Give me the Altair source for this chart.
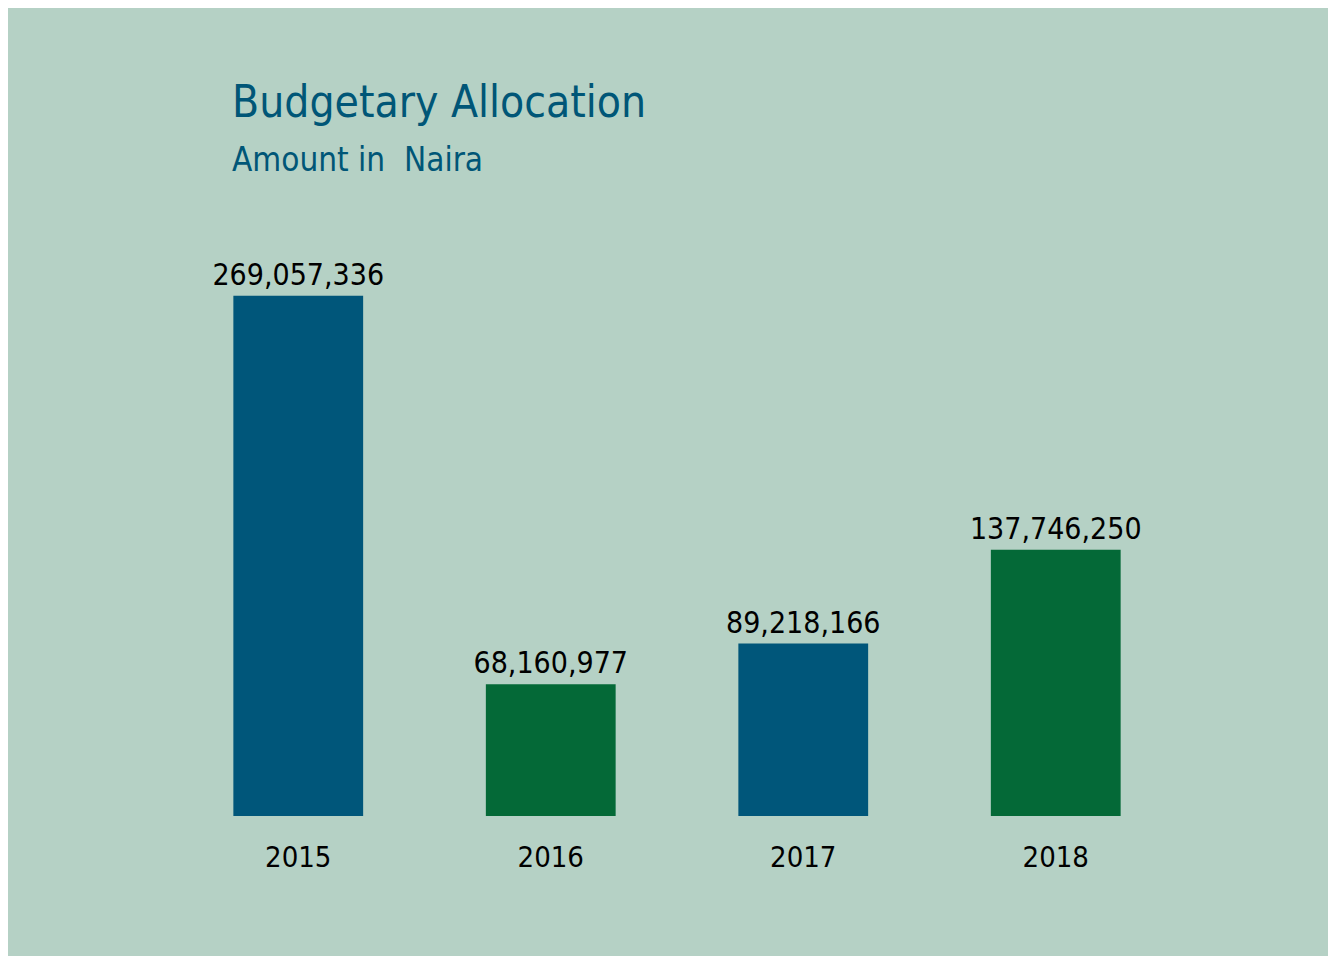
import altair as alt
import pandas as pd

years = ["2015", "2016", "2017", "2018"]
amounts = [269057336, 68160977, 89218166, 137746250]
colors = ["#00567a", "#046937", "#00567a", "#046937"]

df = pd.DataFrame({"year": years, "amount": amounts, "color": colors})
df["label"] = df["amount"].map(lambda v: f"{v:,}")

FONT = "DejaVu Sans Condensed, Roboto, sans-serif"

x = alt.X("year:N", sort=years,
          scale=alt.Scale(paddingInner=0.486, paddingOuter=0.243),
          axis=alt.Axis(title=None, labelAngle=0, domain=False, ticks=False,
                        labelFont=FONT, labelFontSize=29, labelColor="#000000",
                        labelPadding=27))
y = alt.Y("amount:Q", scale=alt.Scale(domain=[0, 300000000], nice=False),
          axis=None)

bars = alt.Chart(df).mark_bar().encode(
    x=x, y=y, color=alt.Color("color:N", scale=None)
)
text = alt.Chart(df).mark_text(
    baseline="bottom", dy=-5, font=FONT, fontSize=30, color="#000000"
).encode(x=x, y=y, text="label:N")

chart = alt.layer(bars, text).properties(
    width=1010, height=580,
    autosize=alt.AutoSizeParams(type="none"),
    padding={"left": 164, "right": 146, "top": 228, "bottom": 140},
    background="#b5d1c5",
    title=alt.TitleParams(
        "Budgetary Allocation", subtitle="Amount in\u00a0 Naira",
        anchor="start", dx=60, offset=58,
        font=FONT, fontSize=44, fontWeight="normal", color="#005677",
        subtitleFont=FONT, subtitleFontSize=33, subtitleColor="#005677",
        subtitlePadding=19,
    ),
).configure_view(stroke=None)

chart.save("out.html", embed_options={"renderer": "svg", "actions": False})
